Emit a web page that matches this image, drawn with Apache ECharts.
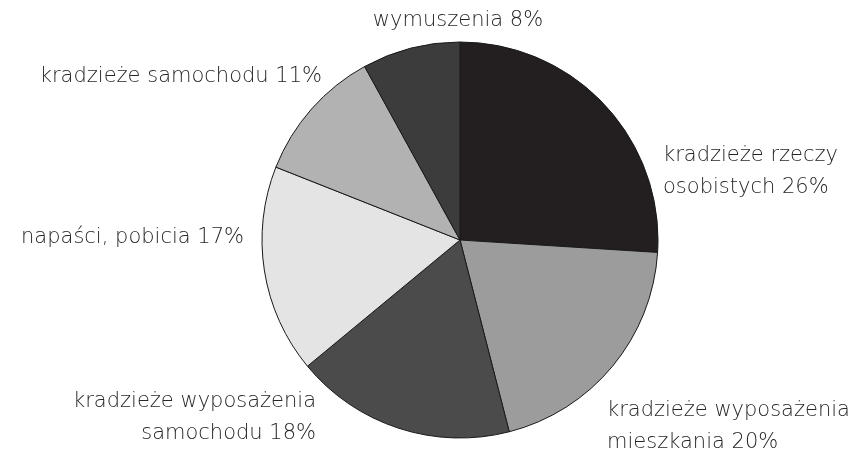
<!DOCTYPE html>
<html>
<head>
<meta charset="utf-8">
<script src="https://cdn.jsdelivr.net/npm/echarts@6/dist/echarts.min.js"></script>
<style>
  html, body { margin: 0; padding: 0; background: #ffffff; }
  #chart { width: 854px; height: 455px; }
</style>
</head>
<body>
<div id="chart"></div>
<script>
// Struktura przestępstw (udział w %)
const categories = [
  'kradzieże rzeczy\nosobistych',
  'kradzieże wyposażenia\nmieszkania',
  'kradzieże wyposażenia\nsamochodu',
  'napaści, pobicia',
  'kradzieże samochodu',
  'wymuszenia'
];
const shares = [26, 20, 18, 17, 11, 8];
const sliceColors = ['#231f20', '#9c9c9c', '#4b4b4b', '#e4e4e4', '#b2b2b2', '#3c3c3c'];

// Label anchors (px) for each slice, in the same order as categories
const labelSpots = [
  { x: 663, y: 172, align: 'left' },
  { x: 607, y: 427, align: 'left' },
  { x: 316, y: 418, align: 'right' },
  { x: 244, y: 238, align: 'right' },
  { x: 322, y: 77, align: 'right' },
  { x: 458, y: 21, align: 'center' }
];

const chart = echarts.init(document.getElementById('chart'), null, { renderer: 'canvas' });

chart.setOption({
  backgroundColor: '#ffffff',
  animation: false,
  series: [{
    type: 'pie',
    center: [460, 240],
    radius: 198,
    startAngle: 90,
    clockwise: true,
    avoidLabelOverlap: false,
    data: categories.map((name, i) => ({
      name: name,
      value: shares[i],
      itemStyle: { color: sliceColors[i] }
    })),
    itemStyle: { borderColor: '#1a1a1a', borderWidth: 1 },
    label: {
      show: true,
      formatter: p => p.name + ' ' + p.value + '%',
      color: '#262626',
      fontFamily: '"DejaVu Sans", sans-serif',
      fontWeight: 200,
      fontSize: 21,
      lineHeight: 32
    },
    labelLine: { show: false },
    labelLayout: function (params) {
      const s = labelSpots[params.dataIndex];
      return { x: s.x, y: s.y, align: s.align, verticalAlign: 'middle' };
    }
  }]
});
</script>
</body>
</html>
